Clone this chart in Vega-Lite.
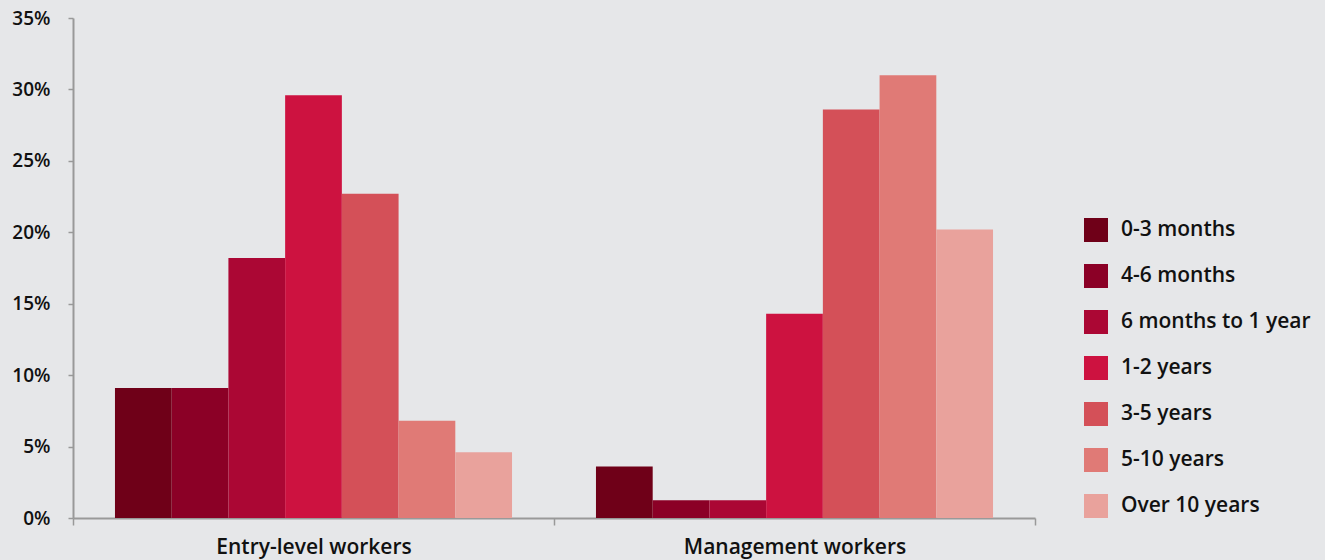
{
  "$schema": "https://vega.github.io/schema/vega-lite/v6.json",
  "width": 962,
  "height": 500,
  "autosize": {"type": "none"},
  "padding": {"left": 73, "top": 18, "right": 290, "bottom": 42},
  "background": "#e6e7e9",
  "data": {
    "values": [
      {"group": "Entry-level workers", "tenure": "0-3 months", "share": 0.091},
      {"group": "Entry-level workers", "tenure": "4-6 months", "share": 0.091},
      {"group": "Entry-level workers", "tenure": "6 months to 1 year", "share": 0.182},
      {"group": "Entry-level workers", "tenure": "1-2 years", "share": 0.296},
      {"group": "Entry-level workers", "tenure": "3-5 years", "share": 0.227},
      {"group": "Entry-level workers", "tenure": "5-10 years", "share": 0.068},
      {"group": "Entry-level workers", "tenure": "Over 10 years", "share": 0.046},
      {"group": "Management workers", "tenure": "0-3 months", "share": 0.036},
      {"group": "Management workers", "tenure": "4-6 months", "share": 0.0125},
      {"group": "Management workers", "tenure": "6 months to 1 year", "share": 0.0125},
      {"group": "Management workers", "tenure": "1-2 years", "share": 0.143},
      {"group": "Management workers", "tenure": "3-5 years", "share": 0.286},
      {"group": "Management workers", "tenure": "5-10 years", "share": 0.31},
      {"group": "Management workers", "tenure": "Over 10 years", "share": 0.202}
    ]
  },
  "mark": {"type": "bar"},
  "encoding": {
    "x": {
      "field": "group",
      "type": "nominal",
      "scale": {"paddingInner": 0, "paddingOuter": 0},
      "axis": {
        "title": null,
        "labelAngle": 0,
        "labelLimit": 400,
        "domainColor": "#999999",
        "domainWidth": 2,
        "tickColor": "#999999",
        "tickWidth": 1.5,
        "tickSize": 7,
        "tickBand": "extent",
        "labelFont": "Open Sans",
        "labelFontWeight": 600,
        "labelFontSize": 21,
        "labelColor": "#111111",
        "labelPadding": 11
      }
    },
    "xOffset": {
      "field": "tenure",
      "type": "nominal",
      "scale": {"domain": ["0-3 months", "4-6 months", "6 months to 1 year", "1-2 years", "3-5 years", "5-10 years", "Over 10 years"], "paddingInner": 0, "paddingOuter": 0.74}
    },
    "y": {
      "field": "share",
      "type": "quantitative",
      "scale": {"domain": [0, 0.35], "nice": false},
      "axis": {
        "title": null,
        "format": ".0%",
        "values": [0, 0.05, 0.1, 0.15, 0.2, 0.25, 0.3, 0.35],
        "grid": false,
        "domainColor": "#999999",
        "domainWidth": 2,
        "tickColor": "#999999",
        "tickWidth": 1.5,
        "tickSize": 5,
        "labelFont": "Open Sans",
        "labelFontWeight": 600,
        "labelFontSize": 19,
        "labelColor": "#111111",
        "labelPadding": 18
      }
    },
    "color": {
      "field": "tenure",
      "type": "nominal",
      "scale": {
        "domain": ["0-3 months", "4-6 months", "6 months to 1 year", "1-2 years", "3-5 years", "5-10 years", "Over 10 years"],
        "range": ["#6f0018", "#8b0026", "#ab0734", "#cd1240", "#d45058", "#e07a76", "#e9a29c"]
      },
      "legend": {
        "title": null,
        "orient": "none",
        "legendX": 1011,
        "legendY": 200,
        "padding": 0,
        "symbolType": "square",
        "symbolSize": 576,
        "symbolStrokeWidth": 0,
        "symbolOpacity": 1,
        "rowPadding": 22,
        "labelOffset": 13,
        "labelFont": "Open Sans",
        "labelFontWeight": 600,
        "labelFontSize": 21,
        "labelColor": "#111111",
        "labelLimit": 300
      }
    }
  },
  "config": {"view": {"stroke": null}}
}
